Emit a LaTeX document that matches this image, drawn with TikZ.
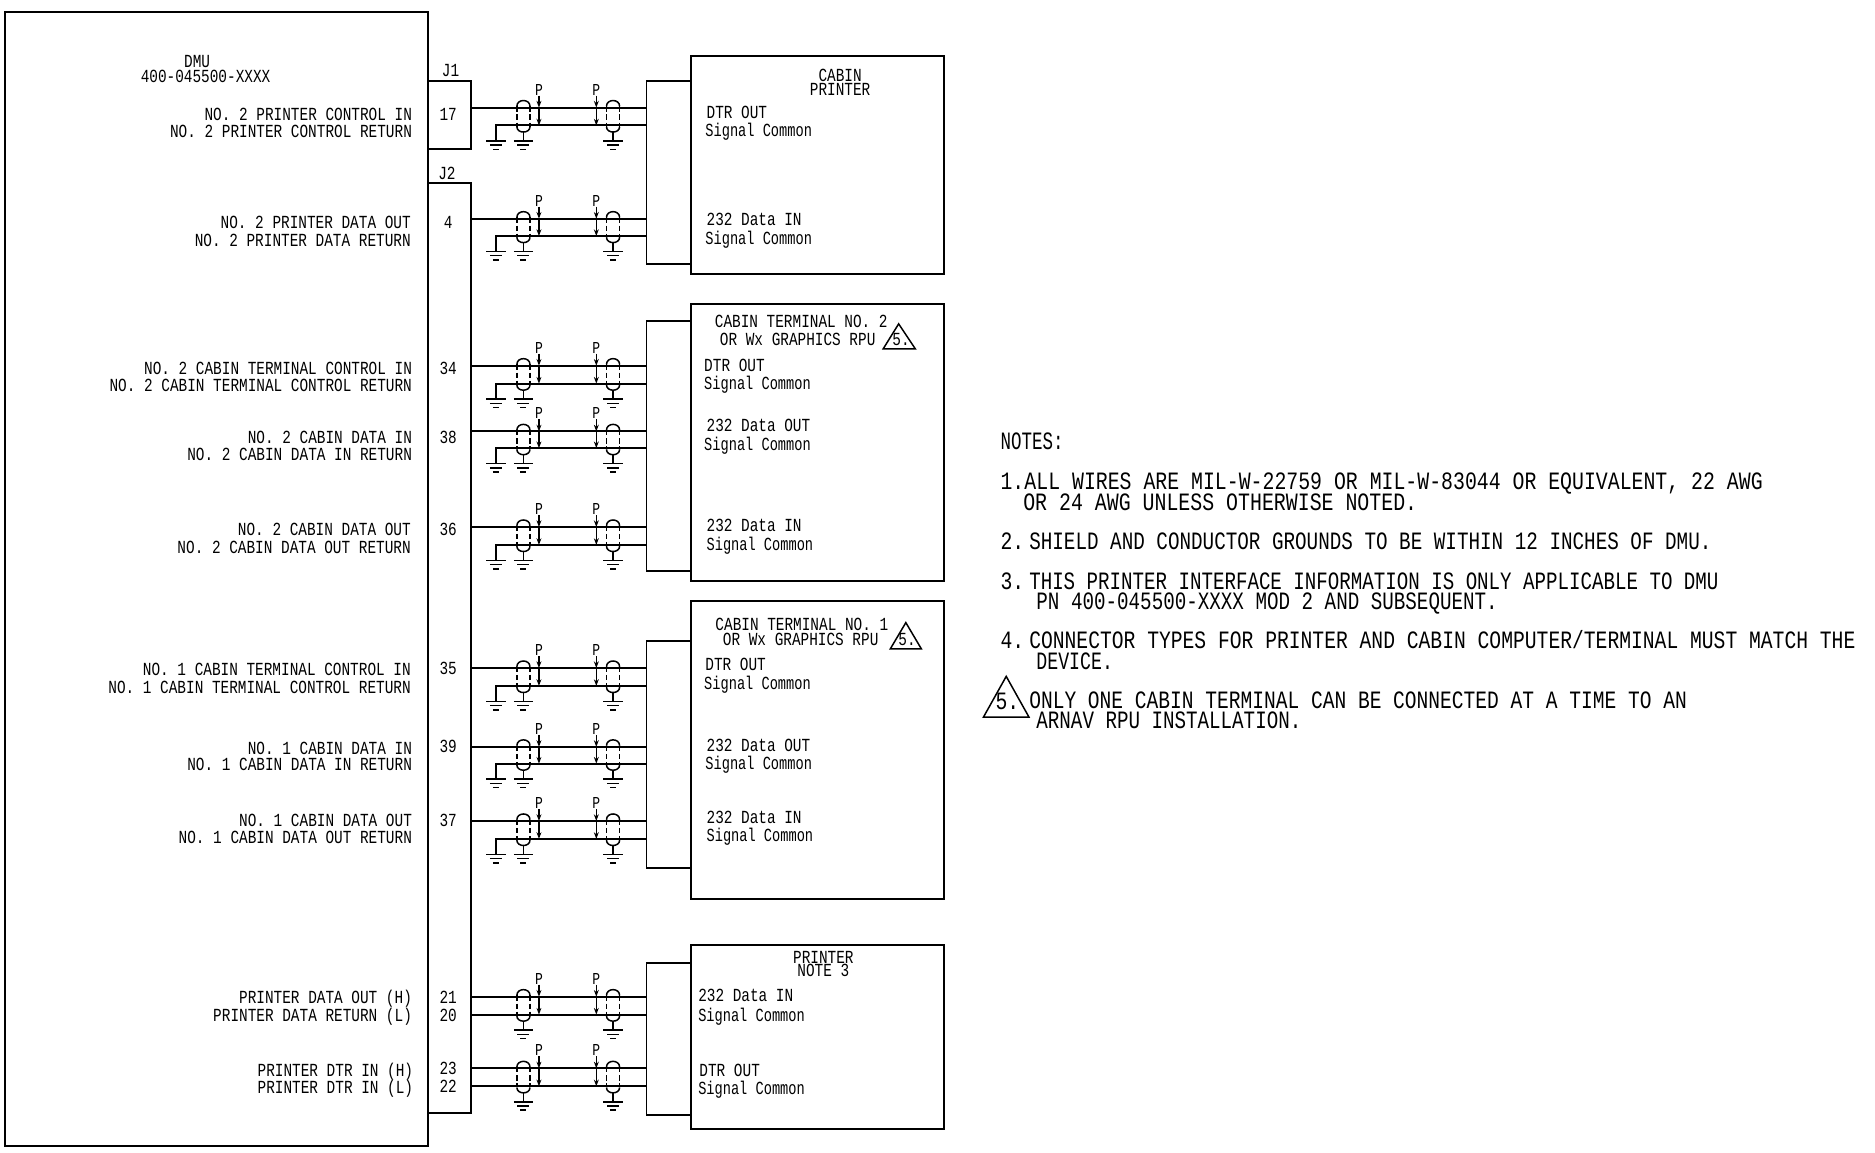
\documentclass[tikz,border=0pt]{standalone}
\usepackage{fontspec}
\usepackage{tikz}
\usetikzlibrary{positioning, fit, arrows.meta}
\newfontfamily\cadfont[FakeStretch=0.78]{Liberation Mono}
\newfontfamily\cadnote[FakeStretch=0.79]{Liberation Mono}
\newfontfamily\cadsig[FakeStretch=0.74]{Liberation Mono}
\newcommand{\nfit}[2]{\addfontfeature{FakeStretch=#1}#2}
\tikzset{
  box/.style={draw, line width=1.1pt, inner sep=0pt, outer sep=0pt},
  wire/.style={line width=1.15pt},
  thinw/.style={line width=0.85pt},
  ptip/.style={line width=0.7pt, -{Stealth[length=3.8pt,width=2.8pt]}},
  lbl/.style={font=\cadfont\fontsize{10.5}{12}\selectfont, inner sep=0pt},
  lbr/.style={lbl, anchor=base east},
  lbo/.style={lbl, anchor=base west},
  lbm/.style={lbl, anchor=base},
  sig/.style={font=\cadsig\fontsize{10.5}{12}\selectfont, inner sep=0pt, anchor=base west},
  note/.style={font=\cadnote\fontsize{14.2}{16}\selectfont, inner sep=0pt, anchor=base west},
  tag/.style={font=\cadfont\fontsize{9.5}{10}\selectfont, inner sep=0pt, anchor=base}
}
\newcommand{\shieldat}[3]{%
  \draw[thinw] (#1-5.5,#2-1) .. controls (#1-5.5,#2-7.5) and (#1+5.5,#2-7.5) .. (#1+5.5,#2-1);
  \draw[thinw] (#1-5.5,#3+1) .. controls (#1-5.5,#3+7) and (#1+5.5,#3+7) .. (#1+5.5,#3+1);
  \draw[thinw, dash pattern=on 3pt off 1.6pt] (#1-5.5,#2-1) -- (#1-5.5,#3+1);
  \draw[thinw, dash pattern=on 3pt off 1.6pt] (#1+5.5,#2-1) -- (#1+5.5,#3+1);
  \draw[thinw] (#1,#3+5) -- (#1,#3+13);
  \gndat{#1}{#3+13}}
\newcommand{\gndat}[2]{%
  \draw[thinw] (#1-8,#2) -- (#1+8,#2);
  \draw[thinw] (#1-5,#2+3.5) -- (#1+5,#2+3.5);
  \draw[thinw] (#1-2.5,#2+7) -- (#1+2.5,#2+7);}
\begin{document}
\begin{tikzpicture}[x=0.0239cm, y=-0.0239cm]
  \useasboundingbox (0,0) rectangle (1569,964);
  % boxes
  \node[box, fit={(4,10) (358,959)}] (DMU) {};
  \node[box, fit={(358,68) (394,125)}] (J1) {};
  \node[box, fit={(358,153) (394,931)}] (J2) {};
  \node[box, fit={(578,47) (790,229)}] (DA) {};
  \node[box, fit={(578,254) (790,486)}] (DB) {};
  \node[box, fit={(578,503) (790,752)}] (DC) {};
  \node[box, fit={(578,791) (790,945)}] (DD) {};
  \node[box, fit={(541,68) (578,221)}] (CA) {};
  \node[box, fit={(541,269) (578,478)}] (CB) {};
  \node[box, fit={(541,536) (578,726)}] (CC) {};
  \node[box, fit={(541,806) (578,933)}] (CD) {};
  % wire bundles
  \foreach \n/\ya/\yb/\jc/\cc/\gg in {17/90/105/J1/CA/1, 4/183/197.5/J2/CA/1, 34/306/321/J2/CB/1,
      38/361/375/J2/CB/1, 36/441/456/J2/CB/1, 35/559/574/J2/CC/1, 39/625/639/J2/CC/1,
      37/687/702/J2/CC/1, 21/834/849/J2/CD/0, 23/894/909/J2/CD/0} {
    \coordinate (top\n) at (0,\ya);
    \coordinate (bot\n) at (0,\yb);
    \draw[wire] (\jc.east |- top\n) -- (\cc.west |- top\n);
    \ifnum\gg=1
      \coordinate (drop\n) at (415,\yb);
      \coordinate (earth\n) at (415,\yb+13);
      \draw[wire] (\cc.west |- bot\n) -- (drop\n) -- (earth\n);
      \gndat{415}{\yb+13}
    \else
      \draw[wire] (\jc.east |- bot\n) -- (\cc.west |- bot\n);
    \fi
    \shieldat{438}{\ya}{\yb}
    \shieldat{513}{\ya}{\yb}
    \foreach \px in {451,499} {
      \node[tag] (P\n\px) at (\px,\ya-10.5) {P};
      \draw[ptip] (\px,\ya-10) -- (\px,\ya);
      \draw[ptip] (\px,\ya) -- (\px,\yb);
    }
  }
  % DMU side
  \node[lbm] (dmu) at (165,56.5) {DMU};
  \node[lbm] (dmupn) at (172,69) {400-045500-XXXX};
  \node[lbr] (a1) at (345,101) {NO. 2 PRINTER CONTROL IN};
  \node[lbr] (a2) at (345,115) {NO. 2 PRINTER CONTROL RETURN};
  \node[lbr] (a3) at (344,191) {NO. 2 PRINTER DATA OUT};
  \node[lbr] (a4) at (344,206) {NO. 2 PRINTER DATA RETURN};
  \node[lbr] (a5) at (345,313) {NO. 2 CABIN TERMINAL CONTROL IN};
  \node[lbr] (a6) at (345,328) {NO. 2 CABIN TERMINAL CONTROL RETURN};
  \node[lbr] (a7) at (345,371) {NO. 2 CABIN DATA IN};
  \node[lbr] (a8) at (345,385) {NO. 2 CABIN DATA IN RETURN};
  \node[lbr] (a9) at (344,448) {NO. 2 CABIN DATA OUT};
  \node[lbr] (a10) at (344,463) {NO. 2 CABIN DATA OUT RETURN};
  \node[lbr] (a11) at (344,565) {NO. 1 CABIN TERMINAL CONTROL IN};
  \node[lbr] (a12) at (344,580) {NO. 1 CABIN TERMINAL CONTROL RETURN};
  \node[lbr] (a13) at (345,631) {NO. 1 CABIN DATA IN};
  \node[lbr] (a14) at (345,645) {NO. 1 CABIN DATA IN RETURN};
  \node[lbr] (a15) at (345,692) {NO. 1 CABIN DATA OUT};
  \node[lbr] (a16) at (345,706) {NO. 1 CABIN DATA OUT RETURN};
  \node[lbr] (a17) at (345,840) {PRINTER DATA OUT (H)};
  \node[lbr] (a18) at (345,855) {PRINTER DATA RETURN (L)};
  \node[lbr] (a19) at (346,901) {PRINTER DTR IN (H)};
  \node[lbr] (a20) at (346,915) {PRINTER DTR IN (L)};
  % pins
  \node[lbm] (j1txt) at (377,64) {J1};
  \node[lbm] (j2txt) at (374,150) {J2};
  \foreach \pin/\py in {17/101, 4/191, 34/313, 38/371, 36/448, 35/564, 39/630, 37/692, 21/840, 20/855, 23/899, 22/914}
    \node[lbm] (pin\pin) at (375,\py) {\pin};
  % devices
  \node[lbm] (b1) at (703,68) {CABIN};
  \node[lbm] (b2) at (703,80) {PRINTER};
  \node[lbo] (b3) at (591,99) {DTR OUT};
  \node[sig] (b4) at (590,114) {Signal Common};
  \node[lbo] (b5) at (591,189) {232 Data IN};
  \node[sig] (b6) at (590,205) {Signal Common};
  \node[lbm] (c1) at (670.5,274) {CABIN TERMINAL NO. 2};
  \node[lbm] (c2) at (667.5,289) {OR Wx GRAPHICS RPU};
  \node[lbo] (c3) at (589,311) {DTR OUT};
  \node[sig] (c4) at (589,326) {Signal Common};
  \node[lbo] (c5) at (591,361) {232 Data OUT};
  \node[sig] (c6) at (589,377) {Signal Common};
  \node[lbo] (c7) at (591,445) {232 Data IN};
  \node[sig] (c8) at (591,461) {Signal Common};
  \node[lbm] (d1) at (671,528) {CABIN TERMINAL NO. 1};
  \node[lbm] (d2) at (670,540) {OR Wx GRAPHICS RPU};
  \node[lbo] (d3) at (590,561) {DTR OUT};
  \node[sig] (d4) at (589,577) {Signal Common};
  \node[lbo] (d5) at (591,629) {232 Data OUT};
  \node[sig] (d6) at (590,644) {Signal Common};
  \node[lbo] (d7) at (591,689) {232 Data IN};
  \node[sig] (d8) at (591,704) {Signal Common};
  \node[lbm] (e1) at (689,806) {PRINTER};
  \node[lbm] (e2) at (689,817) {NOTE 3};
  \node[lbo] (e3) at (584,838) {232 Data IN};
  \node[sig] (e4) at (584,855) {Signal Common};
  \node[lbo] (e5) at (585,901) {DTR OUT};
  \node[sig] (e6) at (584,916) {Signal Common};
  % triangles
  \draw[thinw] (752,271) -- (739,292) -- (766,292) -- cycle;
  \node[lbm] (t1) at (754,289) {5.};
  \draw[thinw] (758,521) -- (745,543) -- (771,543) -- cycle;
  \node[lbm] (t2) at (759,540) {5.};
  \draw[thinw] (842,566) -- (823,600) -- (861,600) -- cycle;
  \node[note, anchor=base] (t3) at (843,594) {5.};
  % notes
  \node[note] (n0) at (837,376) {\nfit{0.70}{NOTES:}};
  \node[note] (n1a) at (837,410) {1.};
  \node[note] (n1) at (857,410) {\nfit{0.795}{ALL WIRES ARE MIL-W-22759 OR MIL-W-83044 OR EQUIVALENT, 22 AWG}};
  \node[note] (n2) at (856,427) {\nfit{0.797}{OR 24 AWG UNLESS OTHERWISE NOTED.}};
  \node[note] (n3a) at (837,460) {2.};
  \node[note] (n3) at (861,460) {\nfit{0.772}{SHIELD AND CONDUCTOR GROUNDS TO BE WITHIN 12 INCHES OF DMU.}};
  \node[note] (n4a) at (837,493) {3.};
  \node[note] (n4) at (861,493) {\nfit{0.767}{THIS PRINTER INTERFACE INFORMATION IS ONLY APPLICABLE TO DMU}};
  \node[note] (n5) at (867,510) {\nfit{0.77}{PN 400-045500-XXXX MOD 2 AND SUBSEQUENT.}};
  \node[note] (n6a) at (837,543) {4.};
  \node[note] (n6) at (861,543) {\nfit{0.788}{CONNECTOR TYPES FOR PRINTER AND CABIN COMPUTER/TERMINAL MUST MATCH THE}};
  \node[note] (n7) at (867,560) {\nfit{0.73}{DEVICE.}};
  \node[note] (n8) at (861,593) {\nfit{0.784}{ONLY ONE CABIN TERMINAL CAN BE CONNECTED AT A TIME TO AN}};
  \node[note] (n9) at (867,610) {\nfit{0.769}{ARNAV RPU INSTALLATION.}};
\end{tikzpicture}
\end{document}
